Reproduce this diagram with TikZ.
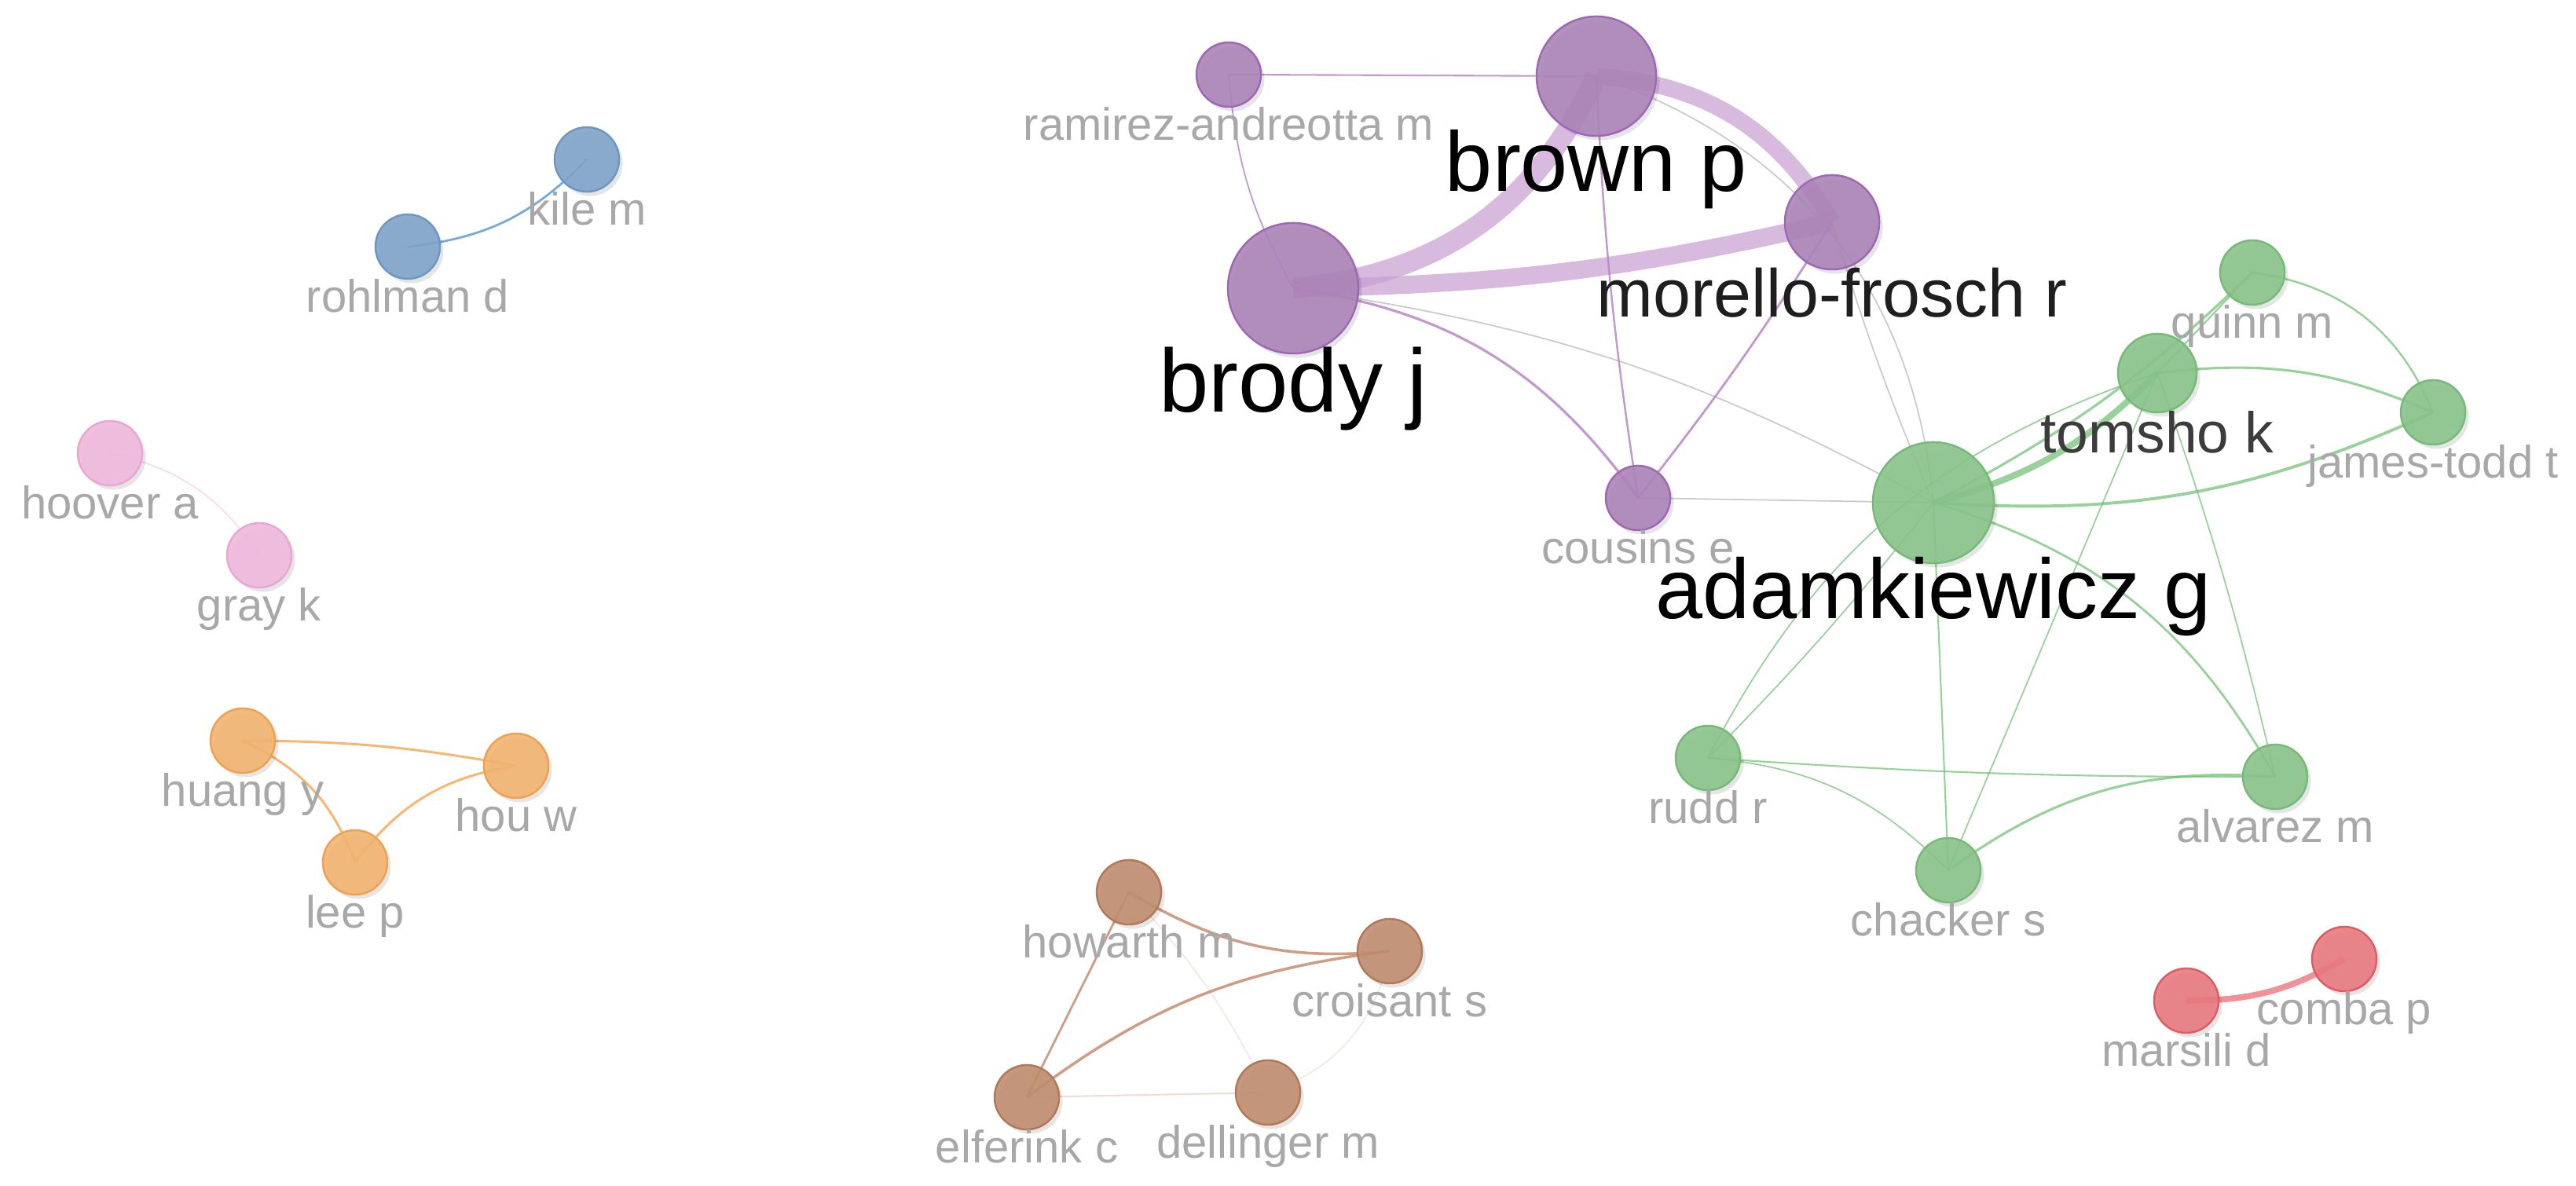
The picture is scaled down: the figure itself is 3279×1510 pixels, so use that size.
\documentclass[tikz,border=0pt]{standalone}
\usepackage{fontspec}
\setmainfont{Liberation Sans}
\usetikzlibrary{shadows}
\pgfdeclarelayer{bgfill}
\pgfdeclarelayer{edges}
\pgfsetlayers{bgfill,edges,main}
\definecolor{npurple}{RGB}{172,132,184}
\definecolor{bpurple}{RGB}{158,104,180}
\definecolor{ngreen}{RGB}{138,195,139}
\definecolor{bgreen}{RGB}{118,186,120}
\definecolor{nblue}{RGB}{128,164,200}
\definecolor{bblue}{RGB}{108,150,196}
\definecolor{npink}{RGB}{240,184,220}
\definecolor{bpink}{RGB}{234,166,210}
\definecolor{norange}{RGB}{243,180,112}
\definecolor{borange}{RGB}{240,160,80}
\definecolor{nbrown}{RGB}{192,142,112}
\definecolor{bbrown}{RGB}{178,120,88}
\definecolor{nred}{RGB}{232,122,128}
\definecolor{bred}{RGB}{224,92,100}
\definecolor{ethick}{RGB}{200,160,210}
\definecolor{ethin}{RGB}{185,135,202}
\definecolor{egrey}{RGB}{190,190,190}
\definecolor{egreen}{RGB}{110,190,112}
\definecolor{eblue}{RGB}{120,170,215}
\definecolor{epink}{RGB}{245,195,225}
\definecolor{eorange}{RGB}{245,165,80}
\definecolor{ebrown}{RGB}{190,125,90}
\definecolor{ered}{RGB}{235,110,118}
\definecolor{labgrey}{RGB}{168,168,168}
\definecolor{labdark}{RGB}{30,30,30}
\definecolor{labmid}{RGB}{60,60,60}
\tikzset{
  nd/.style={circle, inner sep=0pt, outer sep=0pt, line width=0.7pt, fill opacity=0.9,
    drop shadow={shadow xshift=0.045cm, shadow yshift=-0.055cm, opacity=0.10, fill=black}},
  snode/.style={minimum size=0.82cm},
  pnode/.style={nd, fill=npurple, draw=bpurple},
  gnode/.style={nd, fill=ngreen, draw=bgreen},
  blnode/.style={nd, fill=nblue, draw=bblue},
  pknode/.style={nd, fill=npink, draw=bpink},
  onode/.style={nd, fill=norange, draw=borange},
  brnode/.style={nd, fill=nbrown, draw=bbrown},
  rnode/.style={nd, fill=nred, draw=bred},
  lab/.style={inner sep=0pt, outer sep=0pt, anchor=base, text=labgrey, font=\fontsize{16.5}{18}\selectfont},
  labbig/.style={lab, text=black},
  pthick/.style={draw=ethick, draw opacity=0.72},
  pthin/.style={draw=ethin, draw opacity=0.85},
  gry/.style={draw=egrey, draw opacity=0.8, line width=0.5pt},
  grn/.style={draw=egreen, draw opacity=0.7},
}
\begin{document}
\begin{tikzpicture}[x=0.01cm,y=0.01cm]
\begin{pgfonlayer}{bgfill}
\fill[white] (0,0) rectangle (3279,1510);
\end{pgfonlayer}
\useasboundingbox (0,0) rectangle (3279,1510);

% ---------- nodes ----------
\node[blnode, snode] (kile) at (747,1307) {};
\node[blnode, snode] (rohlman) at (519,1196) {};
\node[pknode, snode] (hoover) at (140,933) {};
\node[pknode, snode] (gray) at (330,803) {};
\node[onode, snode] (huang) at (309,567) {};
\node[onode, snode] (hou) at (657,535) {};
\node[onode, snode] (lee) at (452,412) {};
\node[pnode, snode] (ramirez) at (1564,1415) {};
\node[pnode, minimum size=1.52cm] (brown) at (2032,1413) {};
\node[pnode, minimum size=1.66cm] (brody) at (1646,1143) {};
\node[pnode, minimum size=1.20cm] (morello) at (2332,1227) {};
\node[pnode, snode] (cousins) at (2085,876) {};
\node[gnode, snode] (quinn) at (2867,1163) {};
\node[gnode, minimum size=1.00cm] (tomsho) at (2746,1035) {};
\node[gnode, snode] (james) at (3097,985) {};
\node[gnode, minimum size=1.54cm] (adam) at (2461,870) {};
\node[gnode, snode] (rudd) at (2174,545) {};
\node[gnode, snode] (alvarez) at (2896,521) {};
\node[gnode, snode] (chacker) at (2480,402) {};
\node[rnode, snode] (comba) at (2984,289) {};
\node[rnode, snode] (marsili) at (2783,236) {};
\node[brnode, snode] (howarth) at (1437,374) {};
\node[brnode, snode] (croisant) at (1769,299) {};
\node[brnode, snode] (elferink) at (1307,113) {};
\node[brnode, snode] (dellinger) at (1614,119) {};

% ---------- labels ----------
\node[lab] (kile-l) at ([yshift=-0.42cm]kile.south) {kile m};
\node[lab] (rohlman-l) at ([yshift=-0.42cm]rohlman.south) {rohlman d};
\node[lab] (hoover-l) at ([yshift=-0.42cm]hoover.south) {hoover a};
\node[lab] (gray-l) at ([yshift=-0.42cm]gray.south) {gray k};
\node[lab] (huang-l) at ([yshift=-0.42cm]huang.south) {huang y};
\node[lab] (hou-l) at ([yshift=-0.42cm]hou.south) {hou w};
\node[lab] (lee-l) at ([yshift=-0.42cm]lee.south) {lee p};
\node[lab] (ramirez-l) at ([yshift=-0.42cm]ramirez.south) {ramirez-andreotta m};
\node[labbig, font=\fontsize{30.7}{34}\selectfont] (brown-l) at ([yshift=-0.70cm]brown.south) {brown p};
\node[labbig, font=\fontsize{32.4}{36}\selectfont] (brody-l) at ([yshift=-0.74cm]brody.south) {brody j};
\node[lab, text=labdark, font=\fontsize{24.5}{28}\selectfont] (morello-l) at ([yshift=-0.60cm]morello.south) {morello-frosch r};
\node[lab] (cousins-l) at ([yshift=-0.42cm]cousins.south) {cousins e};
\node[lab] (quinn-l) at ([yshift=-0.42cm]quinn.south) {quinn m};
\node[lab, text=labmid, font=\fontsize{20.8}{24}\selectfont] (tomsho-l) at ([yshift=-0.51cm]tomsho.south) {tomsho k};
\node[lab] (james-l) at ([yshift=-0.42cm]james.south) {james-todd t};
\node[labbig, font=\fontsize{30.7}{34}\selectfont] (adam-l) at ([yshift=-0.70cm]adam.south) {adamkiewicz g};
\node[lab] (rudd-l) at ([yshift=-0.42cm]rudd.south) {rudd r};
\node[lab] (alvarez-l) at ([yshift=-0.42cm]alvarez.south) {alvarez m};
\node[lab] (chacker-l) at ([yshift=-0.42cm]chacker.south) {chacker s};
\node[lab] (comba-l) at ([yshift=-0.42cm]comba.south) {comba p};
\node[lab] (marsili-l) at ([yshift=-0.42cm]marsili.south) {marsili d};
\node[lab] (howarth-l) at ([yshift=-0.42cm]howarth.south) {howarth m};
\node[lab] (croisant-l) at ([yshift=-0.42cm]croisant.south) {croisant s};
\node[lab] (elferink-l) at ([yshift=-0.42cm]elferink.south) {elferink c};
\node[lab] (dellinger-l) at ([yshift=-0.42cm]dellinger.south) {dellinger m};

% ---------- edges ----------
\begin{pgfonlayer}{edges}
% blue / pink
\draw[draw=eblue, line width=0.8pt] (rohlman.center) to[bend right=20] (kile.center);
\draw[draw=epink, draw opacity=0.6, line width=0.5pt] (hoover.center) to[bend left=22] (gray.center);
% orange
\draw[draw=eorange, draw opacity=0.8, line width=0.85pt] (huang.center) to[bend left=5] (hou.center);
\draw[draw=eorange, draw opacity=0.8, line width=0.85pt] (huang.center) to[bend left=22] (lee.center);
\draw[draw=eorange, draw opacity=0.8, line width=0.85pt] (lee.center) to[bend left=22] (hou.center);
% brown
\draw[draw=ebrown, draw opacity=0.75, line width=1.0pt] (howarth.center) to[bend right=18] (croisant.center);
\draw[draw=ebrown, draw opacity=0.75, line width=1.0pt] (elferink.center) to[bend left=15] (croisant.center);
\draw[draw=ebrown, draw opacity=0.75, line width=0.8pt] (howarth.center) -- (elferink.center);
\draw[draw=ebrown, draw opacity=0.25, line width=0.6pt] (elferink.center) -- (dellinger.center);
\draw[draw=ebrown, draw opacity=0.2, line width=0.4pt] (howarth.center) to[bend left=8] (dellinger.center);
\draw[draw=ebrown, draw opacity=0.2, line width=0.4pt] (croisant.center) to[bend left=30] (dellinger.center);
% red
\draw[draw=ered, draw opacity=0.75, line width=2.2pt] (marsili.center) to[bend right=15] (comba.center);
% grey between clusters
\draw[gry] (brody.center) to[bend left=10] (adam.center);
\draw[gry] (brown.center) to[bend left=33] (adam.center);
\draw[gry] (morello.center) to[bend right=3] (adam.center);
\draw[gry] (cousins.center) -- (adam.center);
% purple
\draw[pthick, line width=7.5pt] (brody.center) to[bend right=30] (brown.center);
\draw[pthick, line width=6.5pt] (brody.center) to[bend right=6] (morello.center);
\draw[pthick, line width=6pt] (brown.center) to[bend left=28] (morello.center);
\draw[pthin, line width=0.6pt] (ramirez.center) -- (brown.center);
\draw[pthin, line width=0.5pt] (ramirez.center) to[bend right=12] (brody.center);
\draw[pthin, line width=0.9pt] (brody.center) to[bend left=23] (cousins.center);
\draw[pthin, line width=0.7pt] (brown.center) to[bend right=3] (cousins.center);
\draw[pthin, line width=0.8pt] (morello.center) to[bend left=3] (cousins.center);
% green
\draw[grn, line width=2.3pt] (adam.center) to[bend right=15] (tomsho.center);
\draw[grn, line width=0.9pt] (adam.center) to[bend right=8] (quinn.center);
\draw[grn, line width=0.6pt] (tomsho.center) -- (quinn.center);
\draw[grn, line width=1.1pt] (adam.center) to[bend right=14] (james.center);
\draw[grn, line width=0.9pt] (tomsho.center) to[bend left=15] (james.center);
\draw[grn, line width=0.7pt] (quinn.center) to[bend left=30] (james.center);
\draw[grn, line width=0.8pt] (adam.center) to[bend left=22] (alvarez.center);
\draw[grn, line width=0.5pt] (adam.center) to[bend left=3] (rudd.center);
\draw[grn, line width=0.5pt] (rudd.center) to[bend left=22] (tomsho.center);
\draw[grn, line width=0.6pt] (adam.center) -- (chacker.center);
\draw[grn, line width=0.5pt] (chacker.center) -- (tomsho.center);
\draw[grn, line width=0.5pt] (tomsho.center) to[bend left=3] (alvarez.center);
\draw[grn, line width=0.6pt] (rudd.center) to[bend right=2] (alvarez.center);
\draw[grn, line width=0.5pt] (rudd.center) to[bend left=20] (chacker.center);
\draw[grn, line width=0.9pt] (chacker.center) to[bend left=20] (alvarez.center);
\end{pgfonlayer}
\end{tikzpicture}
\end{document}
